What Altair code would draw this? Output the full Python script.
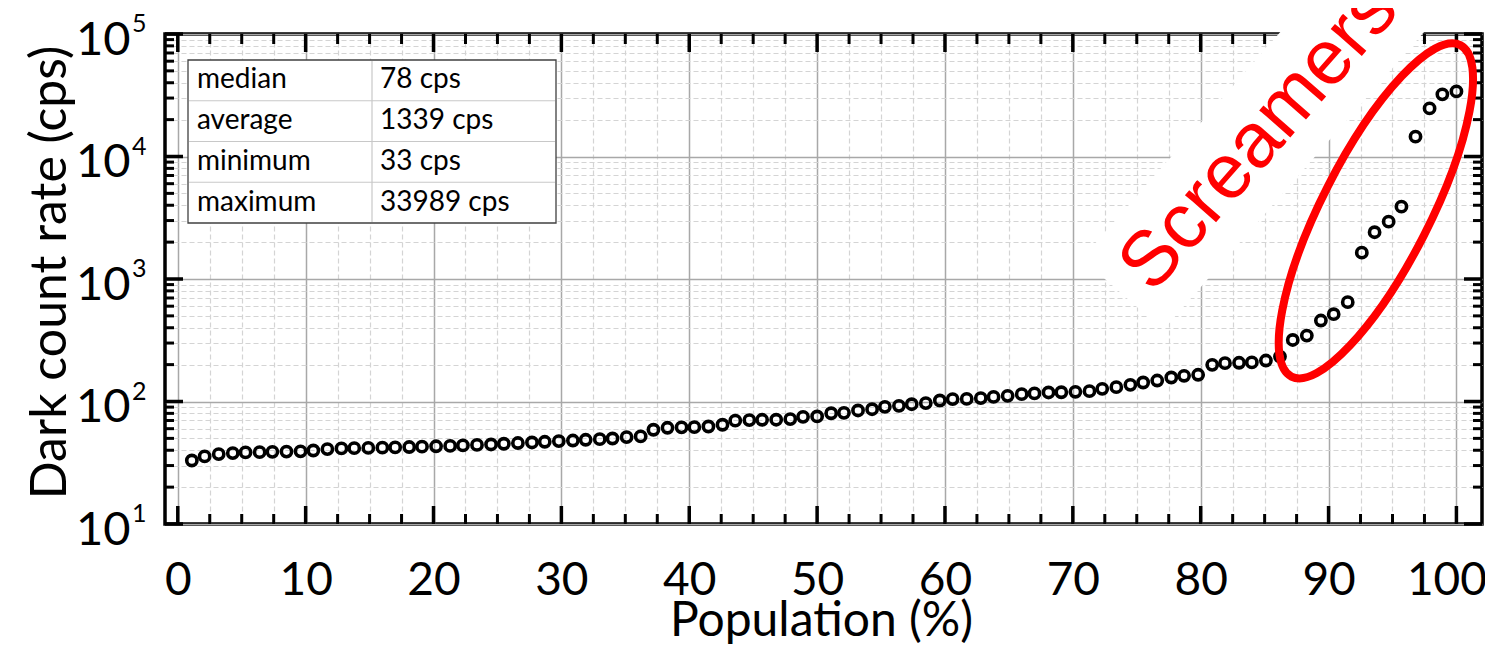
import altair as alt
import pandas as pd

# ---------------- data ----------------
population_pct = [
    1.1, 2.1, 3.2, 4.3, 5.3, 6.4, 7.4, 8.5, 9.6, 10.6,
    11.7, 12.8, 13.8, 14.9, 16.0, 17.0, 18.1, 19.1, 20.2, 21.3,
    22.3, 23.4, 24.5, 25.5, 26.6, 27.7, 28.7, 29.8, 30.9, 31.9,
    33.0, 34.0, 35.1, 36.2, 37.2, 38.3, 39.4, 40.4, 41.5, 42.6,
    43.6, 44.7, 45.7, 46.8, 47.9, 48.9, 50.0, 51.1, 52.1, 53.2,
    54.3, 55.3, 56.4, 57.4, 58.5, 59.6, 60.6, 61.7, 62.8, 63.8,
    64.9, 66.0, 67.0, 68.1, 69.1, 70.2, 71.3, 72.3, 73.4, 74.5,
    75.5, 76.6, 77.7, 78.7, 79.8, 80.9, 81.9, 83.0, 84.0, 85.1,
    86.2, 87.2, 88.3, 89.4, 90.4, 91.5, 92.6, 93.6, 94.7, 95.7,
    96.8, 97.9, 98.9, 100.0,
]
dark_count_cps = [
    33, 35.6, 37.2, 37.9, 38.4, 38.6, 38.8, 39.0, 39.2, 39.8,
    40.9, 41.4, 41.6, 41.8, 42.0, 42.2, 42.5, 42.8, 43.1, 43.4,
    43.8, 44.2, 44.6, 45.2, 45.8, 46.3, 46.9, 47.5, 48.0, 48.7,
    49.3, 49.9, 51.2, 51.9, 58.8, 61.0, 61.5, 61.7, 62.5, 64.6,
    69.8, 70.5, 70.9, 71.0, 71.8, 75.0, 75.5, 80.2, 80.8, 84.5,
    86.5, 90.5, 92.2, 95.0, 97.0, 101.9, 104.7, 105.0, 106.6, 109.0,
    111.2, 114.8, 116.5, 118.5, 119.0, 120.0, 121.5, 126.9, 131.0, 136.8,
    142.9, 148.3, 157.0, 162.1, 165.2, 199.2, 205.6, 207.0, 208.5, 216.0,
    232.7, 318, 345, 458, 516, 647, 1641, 2409, 2940, 3897,
    14520, 24700, 32150, 33989,
]

x_major_ticks = [0, 10, 20, 30, 40, 50, 60, 70, 80, 90, 100]
x_minor_ticks = [2.5, 5, 7.5, 12.5, 15, 17.5, 22.5, 25, 27.5, 32.5, 35, 37.5,
                 42.5, 45, 47.5, 52.5, 55, 57.5, 62.5, 65, 67.5, 72.5, 75, 77.5,
                 82.5, 85, 87.5, 92.5, 95, 97.5]
y_major_ticks = [10, 100, 1000, 10000, 100000]
y_minor_ticks = [20, 30, 40, 50, 60, 70, 80, 90,
                 200, 300, 400, 500, 600, 700, 800, 900,
                 2000, 3000, 4000, 5000, 6000, 7000, 8000, 9000,
                 20000, 30000, 40000, 50000, 60000, 70000, 80000, 90000]
y_exponents = ["1", "2", "3", "4", "5"]

stat_names = ["median", "average", "minimum", "maximum"]
stat_values = ["78 cps", "1339 cps", "33 cps", "33989 cps"]

annotation_text = ["Screamers"]
annotation_x = [84.6]
annotation_y = [14200]
ellipse_x = [93.7]
ellipse_y = [3600]

# ---------------- layout / style ----------------
W, H = 1317, 490
FONT = "Lato"
RED = "#ff0000"

xs = alt.Scale(domain=[-1, 102], nice=False, zero=False)
ys = alt.Scale(type="log", domain=[10, 100000], nice=False)

x_test = "datum.value % 10 === 0"
y_test = "indexof([10,100,1000,10000,100000], datum.value) >= 0"

x_axis = alt.Axis(
    values=sorted(x_major_ticks + x_minor_ticks),
    title="Population (%)",
    grid=True,
    gridColor={"condition": {"test": x_test, "value": "#a8a8a8"}, "value": "#d4d4d4"},
    gridDash={"condition": {"test": x_test, "value": []}, "value": [5, 3]},
    gridWidth={"condition": {"test": x_test, "value": 1.5}, "value": 1.2},
    ticks=False, domain=False,
    labelExpr=f"{x_test} ? datum.label : ''",
    labelFont=FONT, labelFontSize=46, labelColor="black",
    labelPadding=70, labelBaseline="alphabetic",
    labelOffset={"condition": {"test": "datum.value === 100", "value": -10}, "value": 0},
    labelOverlap=False, labelFlush=False,
    titleFont=FONT, titleFontSize=48, titleFontWeight="normal", titleColor="black",
    titleX=656, titleY=111, titleBaseline="alphabetic", titleAlign="center",
)
y_axis = alt.Axis(
    values=sorted(y_major_ticks + y_minor_ticks),
    title="Dark count rate (cps)",
    grid=True,
    gridColor={"condition": {"test": y_test, "value": "#a8a8a8"}, "value": "#d4d4d4"},
    gridDash={"condition": {"test": y_test, "value": []}, "value": [5, 3]},
    gridWidth={"condition": {"test": y_test, "value": 1.5}, "value": 1.2},
    ticks=False, domain=False,
    labelExpr=f"{y_test} ? '10' : ''",
    labelFont=FONT, labelFontSize=47, labelColor="black",
    labelPadding=35, labelBaseline="alphabetic", labelOffset=20,
    labelOverlap=False, labelFlush=False,
    titleFont=FONT, titleFontSize=50, titleFontWeight="normal", titleColor="black",
    titleX=-115, titleY=238, titleAngle=270, titleBaseline="middle", titleAlign="center",
)


def X(field):
    return alt.X(field, scale=xs, axis=x_axis)


def Y(field):
    return alt.Y(field, scale=ys, axis=y_axis)


layers = []

# data points
df = pd.DataFrame({"pop": population_pct, "dcr": dark_count_cps})
layers.append(
    alt.Chart(df).mark_point(
        filled=False, color="black", strokeWidth=3.6, size=105, opacity=1
    ).encode(x=X("pop:Q"), y=Y("dcr:Q"))
)


def x_ticks(vals, length, width, top):
    y0, y1 = (0, length) if top else (H, H - length)
    return alt.Chart(pd.DataFrame({"v": vals})).mark_rule(
        color="black", strokeWidth=width
    ).encode(x=X("v:Q"), y=alt.value(y0), y2=alt.value(y1))


def y_ticks(vals, length, width, right):
    x0, x1 = (W, W - length) if right else (0, length)
    return alt.Chart(pd.DataFrame({"v": vals})).mark_rule(
        color="black", strokeWidth=width
    ).encode(y=Y("v:Q"), x=alt.value(x0), x2=alt.value(x1))


for top in (False, True):
    layers.append(x_ticks(x_major_ticks, 18, 3.5, top))
    layers.append(x_ticks(x_minor_ticks, 10, 3, top))
for right in (False, True):
    layers.append(y_ticks(y_major_ticks, 18, 3.5, right))
    layers.append(y_ticks(y_minor_ticks, 9, 3, right))

ann_df = pd.DataFrame({"x": annotation_x, "y": annotation_y, "t": annotation_text})

# white band behind the annotation text
RECT_PATH = "M -1 -0.26 L 1 -0.26 L 1 0.26 L -1 0.26 Z"
layers.append(
    alt.Chart(ann_df).mark_point(
        shape=RECT_PATH, size=416 ** 2, angle=311.2, filled=True,
        color="white", opacity=1, strokeWidth=0
    ).encode(x=X("x:Q"), y=Y("y:Q"))
)

# statistics table
TX0, TX1, TY0, TROW, TCOL = 23, 391, 26, 40.75, 207
one = pd.DataFrame({"a": [0]})
layers.append(
    alt.Chart(one).mark_rect(fill="white", stroke="#404040", strokeWidth=1.3).encode(
        x=alt.value(TX0), x2=alt.value(TX1), y=alt.value(TY0), y2=alt.value(TY0 + 4 * TROW)
    )
)
row_lines = pd.DataFrame({"ypx": [TY0 + TROW * k for k in range(1, 4)]})
layers.append(
    alt.Chart(row_lines).mark_rule(color="#c8c8c8", strokeWidth=1.2).encode(
        y=alt.Y("ypx:Q", scale=None), x=alt.value(TX0 + 1), x2=alt.value(TX1 - 1)
    )
)
layers.append(
    alt.Chart(one).mark_rule(color="#c8c8c8", strokeWidth=1.2).encode(
        x=alt.value(TCOL), y=alt.value(TY0 + 1), y2=alt.value(TY0 + 4 * TROW - 1)
    )
)
table_df = pd.DataFrame({
    "name": stat_names,
    "val": stat_values,
    "ypx": [TY0 + TROW * (i + 0.5) for i in range(len(stat_names))],
})
for field, xpx in (("name", TX0 + 9), ("val", TCOL + 8)):
    layers.append(
        alt.Chart(table_df).mark_text(
            align="left", baseline="middle", font=FONT, fontSize=28, color="black"
        ).encode(x=alt.value(xpx), y=alt.Y("ypx:Q", scale=None), text=f"{field}:N")
    )

# red ellipse around the screamers
ELLIPSE_PATH = "M -1 0 A 1 0.29 0 1 1 1 0 A 1 0.29 0 1 1 -1 0 Z"
ell_df = pd.DataFrame({"x": ellipse_x, "y": ellipse_y})
layers.append(
    alt.Chart(ell_df).mark_point(
        shape=ELLIPSE_PATH, size=372 ** 2, angle=297, filled=False,
        color=RED, strokeWidth=8, opacity=1
    ).encode(x=X("x:Q"), y=Y("y:Q"))
)

# annotation text
layers.append(
    alt.Chart(ann_df).mark_text(
        angle=311.2, fontSize=78, font="Liberation Sans", color=RED,
        align="center", baseline="middle"
    ).encode(x=X("x:Q"), y=Y("y:Q"), text="t:N")
)

# exponents of the y tick labels
exp_df = pd.DataFrame({"v": y_major_ticks, "e": y_exponents})
layers.append(
    alt.Chart(exp_df).mark_text(
        align="left", baseline="alphabetic", font=FONT, fontSize=25, color="black", dy=-2
    ).encode(x=alt.value(-33), y=Y("v:Q"), text="e:N")
)

chart = alt.layer(*layers).properties(
    width=W, height=H,
    autosize=alt.AutoSizeParams(type="none"),
    padding={"left": 157, "top": 26, "right": 3, "bottom": 123},
).configure_view(stroke="black", strokeWidth=3.5)

chart.save("out.html", embed_options={"renderer": "svg", "actions": False})
